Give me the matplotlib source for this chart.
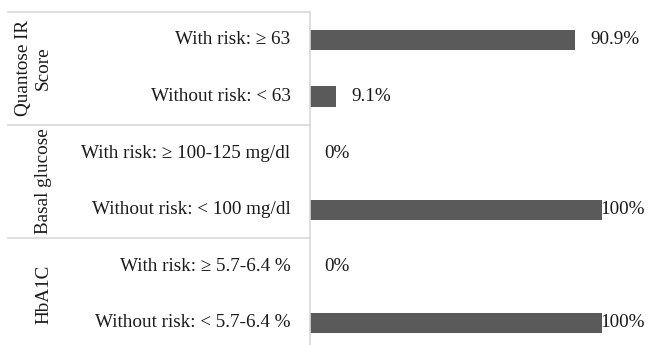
import matplotlib
matplotlib.use("Agg")
import matplotlib.pyplot as plt
from matplotlib.lines import Line2D

plt.rcParams["font.family"] = ["Liberation Serif", "DejaVu Serif"]

groups = ["Quantose IR\nScore", "Basal glucose", "HbA1C"]
categories = [
    "With risk: \u2265 63",
    "Without risk: < 63",
    "With risk: \u2265 100-125 mg/dl",
    "Without risk: < 100 mg/dl",
    "With risk: \u2265 5.7-6.4 %",
    "Without risk: < 5.7-6.4 %",
]
values = [90.9, 9.1, 0, 100, 0, 100]
value_labels = ["90.9%", "9.1%", "0%", "100%", "0%", "100%"]

W, H = 651, 345
fig = plt.figure(figsize=(W / 100, H / 100), dpi=100)

# plot area in pixel terms
left_px, right_px = 309.5, 645
top_px, bottom_px = 11.7, 351.3
ax = fig.add_axes([left_px / W, 1 - bottom_px / H,
                   (right_px - left_px) / W, (bottom_px - top_px) / H])

unit_px = 292.0 / 100  # pixels per percent
xmax = (right_px - left_px) / unit_px
ax.set_xlim(0, xmax)
n = len(categories)
ax.set_ylim(n - 0.5, -0.5)

bar_color = "#5a5a5a"
text_color = "#1a1a1a"
line_color = "#d9d9d9"
fs = 13.8

ypos = list(range(n))
ax.barh(ypos, values, height=0.36, color=bar_color)

for s in ["top", "right", "bottom"]:
    ax.spines[s].set_visible(False)
ax.spines["left"].set_color(line_color)
ax.spines["left"].set_linewidth(1.2)
ax.set_xticks([])
ax.set_yticks([])

fig.canvas.draw()
renderer = fig.canvas.get_renderer()

# value labels, kept inside the plot area
for y, v, lab in zip(ypos, values, value_labels):
    t = ax.text(v, y, lab, va="center", ha="left", fontsize=fs, color=text_color)
    t.set_transform(ax.transData + matplotlib.transforms.ScaledTranslation(15 / 100, 0, fig.dpi_scale_trans))
    bb = t.get_window_extent(renderer)
    tw = bb.width / unit_px
    if v + 15 / unit_px + tw > xmax:
        t.set_transform(ax.transData)
        t.set_position((xmax, y))
        t.set_ha("right")

# category labels
for y, lab in zip(ypos, categories):
    ax.annotate(lab, xy=(0, y), xycoords="data", xytext=(-19, 0),
                textcoords="offset pixels", ha="right", va="center",
                fontsize=fs, color=text_color)

# group separators and group labels
sep_x0 = 8 / W
for g in range(len(groups) + 1):
    yb = -0.5 + 2 * g
    yfig = fig.transFigure.inverted().transform(ax.transData.transform((0, yb)))[1]
    fig.add_artist(Line2D([sep_x0, left_px / W], [yfig, yfig], color=line_color,
                          lw=1.2, transform=fig.transFigure))

group_x = [33.5, 44, 44]
for g, (lab, gx) in enumerate(zip(groups, group_x)):
    yc = 2 * g + 0.5
    yfig = fig.transFigure.inverted().transform(ax.transData.transform((0, yc)))[1]
    fig.text(gx / W, yfig, lab, rotation=90, ha="center", va="center",
             fontsize=fs, color=text_color, multialignment="center",
             linespacing=1.2)

fig.savefig("out.png", dpi=100)
